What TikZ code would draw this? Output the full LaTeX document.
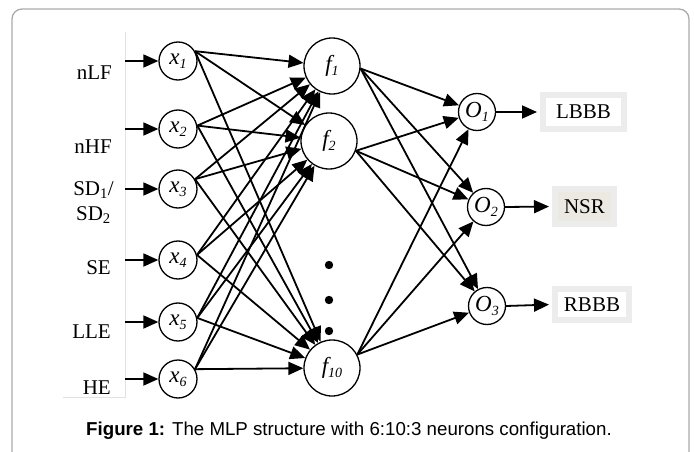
\documentclass[tikz,border=0pt]{standalone}
\usepackage{fontspec}
\setmainfont{Liberation Serif}
\newfontfamily\capfont{Liberation Sans}
\usetikzlibrary{arrows.meta}
\definecolor{framegray}{HTML}{AAAAAA}
\definecolor{thingray}{HTML}{E2E2E2}
\definecolor{boxgray}{HTML}{ECECEC}
\definecolor{beige}{HTML}{ECE9E2}
\newcommand\nsub[2]{{\itshape #1}\raisebox{-0.4ex}{\fontsize{14}{14}\selectfont\itshape #2}}
\begin{document}
\begin{tikzpicture}[x=1pt,y=-1pt,
  neuron/.style={circle, draw, line width=1.3pt, fill=white, inner sep=0pt, font=\fontsize{23}{24}\selectfont},
  inneuron/.style={neuron, minimum size=38pt},
  hidneuron/.style={neuron, minimum size=56pt},
  outneuron/.style={neuron, minimum size=37pt},
  conn/.style={line width=1.8pt, -{Triangle[length=15pt,width=13pt]}},
  lab/.style={font=\fontsize{21}{22}\selectfont, anchor=east, inner sep=0pt},
  outbox/.style={draw=boxgray, line width=6pt, inner sep=0pt, font=\fontsize{21}{22}\selectfont},
]
\path[use as bounding box] (0,0) rectangle (694,452);
\draw[framegray, line width=1.3pt, rounded corners=10pt] (12,480) -- (12,9) -- (689,9) -- (689,480);
\draw[thingray, line width=0.8pt] (125,32) -- (125,397) -- (63,397);

% labels
\node[lab] (lnlf) at (112,73) {nLF};
\node[lab] (lnhf) at (112,147) {nHF};
\node[lab] (lsd1) at (114,190) {SD\textsubscript{1}/};
\node[lab] (lsd2) at (111,215) {SD\textsubscript{2}};
\node[lab] (lse) at (111,268) {SE};
\node[lab] (llle) at (111,332) {LLE};
\node[lab] (lhe) at (111,388) {HE};

% input neurons
\foreach \i/\y in {1/61,2/129,3/189,4/260,5/322,6/379}{
  \node[inneuron] (x\i) at (178,\y) {\nsub{x}{\i}};
  \coordinate (in\i) at (125,\y);
  \draw[conn] (in\i) -- (x\i.west);
}

% hidden neurons
\node[hidneuron] (f1) at (332,66) {\nsub{f}{1}};
\node[hidneuron] (f2) at (329,141) {\nsub{f}{2}};
\node[hidneuron] (f10) at (332,368) {\nsub{f}{10}};
\fill (329,265) circle (4.2) (329,300) circle (4.2) (329,331) circle (4.2);

% output neurons
\node[outneuron] (o1) at (477,112) {\nsub{O}{1}};
\node[outneuron] (o2) at (486,207) {\nsub{O}{2}};
\node[outneuron] (o3) at (487,306) {\nsub{O}{3}};

% input -> hidden
\foreach \i/\a in {1/30,2/10,3/30,4/15,5/12,6/30}{
  \foreach \j in {1,2,10}{
    \draw[conn] (x\i.\a) -- (f\j);
  }
}
% hidden -> output
\foreach \j/\a in {1/-5,2/-20,10/28}{
  \foreach \k in {1,2,3}{
    \draw[conn] (f\j.\a) -- (o\k);
  }
}

% output boxes
\node[outbox, fill=white, minimum width=81pt, minimum height=34pt] (lbbb) at (583.5,112) {LBBB};
\node[outbox, fill=beige, minimum width=59pt, minimum height=35pt] (nsr) at (584.5,206.5) {NSR};
\node[outbox, fill=white, minimum width=74pt, minimum height=31pt] (rbbb) at (592,304.5) {RBBB};
\draw[conn, shorten >=3pt] (o1.east) -- (lbbb.west);
\draw[conn, shorten >=3pt] (o2.east) -- (nsr.west);
\draw[conn, shorten >=3pt] (o3.east) -- (rbbb.west);

% caption
\node[font=\capfont\fontsize{18.7}{20}\selectfont, inner sep=0pt, anchor=base] (cap) at (349,435) {{\bfseries Figure 1:} The MLP structure with 6:10:3 neurons configuration.};
\end{tikzpicture}
\end{document}
